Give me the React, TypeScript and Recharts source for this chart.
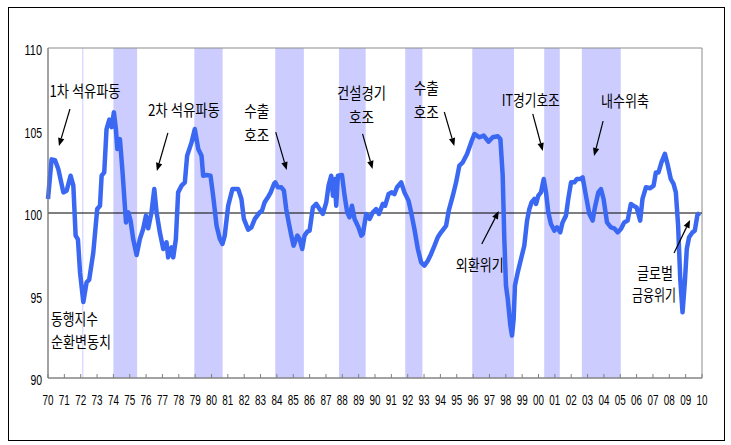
import React from 'react';
import {
  ComposedChart, Line, XAxis, YAxis, ReferenceArea, ReferenceLine, ReferenceDot,
} from 'recharts';

// 동행지수 순환변동치, [year, value]
const cycle1970s: [number, number][] = [
  [1970.0, 100.85], [1970.22, 103.25], [1970.43, 103.2], [1970.63, 102.67], [1970.94, 101.25],
  [1971.14, 101.35], [1971.38, 102.26], [1971.55, 101.66], [1971.69, 98.63], [1971.83, 98.4],
  [1971.96, 96.4], [1972.16, 94.6], [1972.36, 95.8], [1972.52, 95.96], [1972.77, 97.6],
  [1973.01, 100.24], [1973.18, 100.44], [1973.28, 102.26], [1973.44, 102.46], [1973.58, 105.09],
  [1973.75, 105.66], [1973.89, 105.2], [1974.03, 106.1], [1974.15, 105.1], [1974.24, 103.88],
  [1974.4, 104.48], [1974.56, 102.46], [1974.77, 99.43], [1974.91, 100.04], [1975.05, 99.54],
  [1975.21, 98.42], [1975.42, 97.45], [1975.62, 98.42], [1975.82, 99.03], [1975.99, 99.84],
  [1976.13, 99.07], [1976.33, 100.04], [1976.5, 101.45], [1976.64, 100.04], [1976.84, 98.83],
  [1977.05, 97.82], [1977.25, 98.22], [1977.35, 97.31], [1977.56, 97.92], [1977.66, 97.31],
  [1977.82, 98.42], [1977.96, 101.25], [1978.17, 101.66], [1978.37, 101.86], [1978.51, 103.47],
  [1978.78, 104.28], [1978.98, 105.09], [1979.19, 103.88], [1979.39, 103.47], [1979.49, 102.26],
  [1979.7, 102.3], [1979.94, 102.26],
];

const cycle1980s: [number, number][] = [
  [1980.1, 101.05], [1980.31, 99.23], [1980.51, 98.42], [1980.67, 98.12], [1980.81, 98.63],
  [1981.02, 100.44], [1981.28, 101.45], [1981.63, 101.45], [1981.83, 100.85], [1981.98, 99.64],
  [1982.24, 98.99], [1982.44, 99.13], [1982.65, 99.64], [1982.95, 100.04], [1983.09, 100.14],
  [1983.25, 100.65], [1983.45, 100.95], [1983.62, 101.25], [1983.82, 101.76], [1983.9, 101.86],
  [1984.06, 101.56], [1984.27, 101.56], [1984.43, 101.35], [1984.57, 100.24], [1984.72, 99.43],
  [1984.88, 98.63], [1985.02, 98.02], [1985.25, 98.63], [1985.39, 98.42], [1985.55, 97.82],
  [1985.69, 98.63], [1985.86, 98.87], [1986.0, 98.93], [1986.2, 100.34], [1986.41, 100.55],
  [1986.61, 100.24], [1986.81, 99.94], [1987.02, 100.65], [1987.16, 101.66], [1987.32, 102.26],
  [1987.43, 101.05], [1987.53, 102.06], [1987.63, 100.44], [1987.73, 102.26], [1987.98, 102.3],
  [1988.14, 101.05], [1988.3, 100.04], [1988.44, 99.74], [1988.59, 100.44], [1988.75, 99.64],
  [1988.99, 99.13], [1989.16, 98.63], [1989.26, 98.73], [1989.46, 99.94], [1989.67, 99.64],
  [1989.87, 100.04],
];

const cycle1990s: [number, number][] = [
  [1990.07, 100.24], [1990.24, 99.94], [1990.48, 100.55], [1990.62, 100.44], [1990.83, 101.15],
  [1991.03, 101.25], [1991.19, 101.15], [1991.35, 101.56], [1991.6, 101.86], [1991.8, 101.25],
  [1992.05, 100.75], [1992.21, 100.04], [1992.41, 99.03], [1992.62, 97.82], [1992.82, 97.01],
  [1993.02, 96.81], [1993.23, 97.11], [1993.43, 97.52], [1993.64, 98.02], [1993.84, 98.53],
  [1994.04, 98.83], [1994.2, 99.03], [1994.35, 99.23], [1994.51, 100.14], [1994.76, 101.05],
  [1994.96, 101.86], [1995.16, 102.87], [1995.37, 103.07], [1995.63, 103.58], [1995.88, 104.28],
  [1996.08, 104.79], [1996.39, 104.59], [1996.65, 104.69], [1996.94, 104.32], [1997.2, 104.59],
  [1997.51, 104.65], [1997.67, 104.48], [1997.81, 102.26], [1997.91, 98.42], [1998.01, 95.6],
  [1998.12, 94.79], [1998.28, 93.17], [1998.38, 92.57], [1998.48, 93.58], [1998.56, 95.6],
  [1998.73, 96.4], [1998.93, 97.21], [1999.13, 98.02], [1999.3, 99.54], [1999.44, 100.24],
  [1999.58, 100.65], [1999.75, 100.85], [1999.85, 100.55], [1999.99, 101.05],
];

const cycle2000s: [number, number][] = [
  [2000.15, 101.25], [2000.32, 102.06], [2000.46, 101.25], [2000.6, 100.04], [2000.76, 99.33],
  [2000.97, 98.93], [2001.13, 99.13], [2001.33, 98.83], [2001.47, 99.43], [2001.68, 99.84],
  [2001.82, 100.85], [2001.99, 101.86], [2002.19, 101.86], [2002.35, 102.06], [2002.56, 102.06],
  [2002.7, 102.16], [2002.9, 101.05], [2003.11, 99.94], [2003.31, 99.54], [2003.45, 100.34],
  [2003.66, 101.25], [2003.82, 101.45], [2003.98, 100.85], [2004.19, 99.43], [2004.43, 99.13],
  [2004.63, 99.07], [2004.84, 98.83], [2005.04, 99.03], [2005.24, 99.43], [2005.45, 99.54],
  [2005.65, 100.55], [2005.81, 100.44], [2006.0, 100.34], [2006.22, 99.54], [2006.36, 100.85],
  [2006.57, 101.56], [2006.83, 101.5], [2007.04, 101.66], [2007.18, 102.46], [2007.34, 102.46],
  [2007.52, 103.07], [2007.73, 103.58], [2007.89, 102.97], [2008.09, 102.06], [2008.26, 101.76],
  [2008.4, 101.25], [2008.54, 99.23], [2008.67, 96.0], [2008.81, 93.98], [2008.95, 95.8],
  [2009.07, 97.82], [2009.21, 98.53], [2009.42, 98.83], [2009.56, 98.93], [2009.72, 99.88],
  [2009.85, 100.0],
];

// 경기 수축국면 (peak -> trough)
const contractions: [number, number][] = [
  [1972.1, 1972.16], [1974.0, 1975.45], [1978.95, 1980.68], [1983.9, 1985.65],
  [1987.8, 1989.43], [1991.85, 1992.9], [1995.95, 1998.5], [2000.35, 2001.3], [2002.65, 2005.03],
];

const yearTicks = Array.from({ length: 41 }, (_, i) => 1970 + i);
const valueTicks = [90, 95, 100, 105, 110];

// arrow tip in data coords; tail / text offsets in px from the tip
const notes = [
  { year: 1970.67, value: 104.06, tail: [11, -37], text: [['1차 석유파동', 26, -49, 71]] },
  { year: 1976.66, value: 102.55, tail: [11, -38], text: [['2차 석유파동', 27, -55, 72]] },
  { year: 1984.6, value: 102.6, tail: [-11, -38], text: [['수출', -30, -53, 25], ['호조', -30, -29, 25]] },
  { year: 1989.85, value: 102.67, tail: [-10, -35], text: [['건설경기', -11, -70, 49], ['호조', -11, -46, 25]] },
  { year: 1994.85, value: 104.06, tail: [-10, -34], text: [['수출', -28, -52, 25], ['호조', -28, -28, 25]] },
  { year: 2000.26, value: 103.76, tail: [-10, -37], text: [['IT경기호조', -12, -45, 58]] },
  { year: 2003.4, value: 103.45, tail: [9, -35], text: [['내수위축', 31, -49, 48]] },
  { year: 1997.57, value: 100.12, tail: [-17, 33], text: [['외환위기', -19, 60, 48]] },
  { year: 2009.27, value: 99.58, tail: [-16, 33], text: [['글로벌', -35, 59, 36], ['금융위기', -36, 81, 44]] },
];

const seriesLabel = { year: 1970.18, value: 93.2, lines: ['동행지수', '순환변동치'], widths: [47, 60] };

const data = [...cycle1970s, ...cycle1980s, ...cycle1990s, ...cycle2000s].map(([year, value]) => ({ year, value }));

const NUM_FONT = '"Liberation Sans", Arial, sans-serif';
const KR_FONT = '"Noto Sans CJK KR", sans-serif';

const XTick = (props: any) => {
  const { x, y, payload } = props;
  const label = String(payload.value % 100).padStart(2, '0');
  return (
    <g>
      <line x1={x} x2={x} y1={y - 4} y2={y} stroke="#808080" />
      <text x={x} y={y + 27} textAnchor="middle" fontSize={15} fontFamily={NUM_FONT} fill="#000"
        textLength={11} lengthAdjust="spacingAndGlyphs">{label}</text>
    </g>
  );
};

const YTick = (props: any) => {
  const { x, y, payload } = props;
  const s = String(payload.value);
  return (
    <text x={x} y={y + 7} textAnchor="end" fontSize={15} fontFamily={NUM_FONT} fill="#000"
      textLength={s.length * 5.8} lengthAdjust="spacingAndGlyphs">{s}</text>
  );
};

const noteShape = (note: any) => (props: any) => {
  const { cx, cy } = props;
  const tx = cx + note.tail[0];
  const ty = cy + note.tail[1];
  const len = Math.hypot(cx - tx, cy - ty);
  const ux = (cx - tx) / len;
  const uy = (cy - ty) / len;
  const bx = cx - ux * 8;
  const by = cy - uy * 8;
  const head = `${cx},${cy} ${bx - uy * 3.2},${by + ux * 3.2} ${bx + uy * 3.2},${by - ux * 3.2}`;
  return (
    <g>
      <line x1={tx} y1={ty} x2={bx} y2={by} stroke="#000" strokeWidth={1.2} />
      <polygon points={head} fill="#000" />
      {note.text.map(([t, dx, dy, w]: any) => (
        <text key={t + dy} x={cx + dx} y={cy + dy} textAnchor="middle" fontSize={16} fontFamily={KR_FONT}
          fill="#000" textLength={w} lengthAdjust="spacingAndGlyphs">{t}</text>
      ))}
    </g>
  );
};

const labelShape = (props: any) => {
  const { cx, cy } = props;
  return (
    <g>
      {seriesLabel.lines.map((t, i) => (
        <text key={t} x={cx} y={cy + i * 23} fontSize={16} fontFamily={KR_FONT} fill="#000"
          textLength={seriesLabel.widths[i]} lengthAdjust="spacingAndGlyphs">{t}</text>
      ))}
    </g>
  );
};

export default function App() {
  return (
    <div style={{ position: 'absolute', left: 0, top: 0, width: 731, height: 445, background: '#fff' }}>
      <div style={{ position: 'absolute', left: 8, top: 7, width: 717, height: 434, border: '1px solid #000', boxSizing: 'border-box' }} />
      <div style={{ position: 'absolute', left: 0, top: 0 }}>
        <ComposedChart width={731} height={445} data={data} margin={{ top: 48, right: 29, bottom: 37, left: 8 }}>
          {contractions.map(([a, b]) => (
            <ReferenceArea key={a} x1={a} x2={b} y1={90} y2={110} fill="#CCCCFF" fillOpacity={1} stroke="none" />
          ))}
          <ReferenceArea x1={1970} x2={2010} y1={90} y2={110} fill="none" stroke="#8c8c8c" strokeWidth={1} />
          <XAxis type="number" dataKey="year" domain={[1970, 2010]} ticks={yearTicks} interval={0}
            height={30} axisLine={{ stroke: '#808080' }} tickLine={false} tickSize={0} tickMargin={0} tick={<XTick />} />
          <YAxis type="number" domain={[90, 110]} ticks={valueTicks} width={40}
            axisLine={{ stroke: '#808080' }} tickLine={false} tickSize={0} tickMargin={6} tick={<YTick />} />
          <ReferenceLine y={100} stroke="#000" strokeWidth={1.2} />
          <Line type="linear" dataKey="value" stroke="#3A68F2" strokeWidth={4.5} dot={false}
            isAnimationActive={false} strokeLinejoin="round" />
          {notes.map((n) => (
            <ReferenceDot key={n.year} x={n.year} y={n.value} r={0} shape={noteShape(n)} />
          ))}
          <ReferenceDot x={seriesLabel.year} y={seriesLabel.value} r={0} shape={labelShape} />
        </ComposedChart>
      </div>
    </div>
  );
}
